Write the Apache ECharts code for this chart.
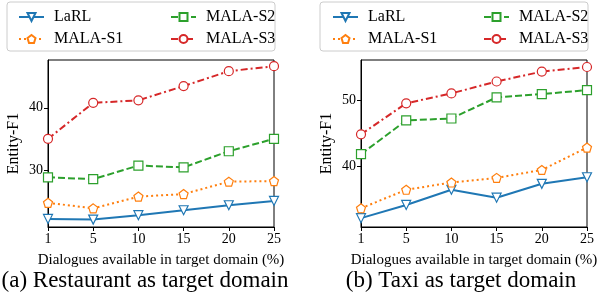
<!DOCTYPE html>
<html>
<head>
<meta charset="utf-8">
<script src="https://cdn.jsdelivr.net/npm/echarts@6/dist/echarts.min.js"></script>
<style>
  html, body { margin: 0; padding: 0; background: #fff; }
  #chart { width: 603px; height: 302px; }
</style>
</head>
<body>
<div id="chart"></div>
<script>
// x categories (% of target dialogues)
const pcts = ['1', '5', '10', '15', '20', '25']

// (a) Restaurant
const restLaRL = [22.1, 22.0, 22.7, 23.5, 24.3, 25.0]
const restS1 = [24.7, 23.8, 25.7, 26.1, 28.1, 28.2]
const restS2 = [28.8, 28.5, 30.7, 30.4, 33.0, 35.0]
const restS3 = [35.0, 40.8, 41.2, 43.5, 45.9, 46.7]
const restTicks = [30, 40]

// (b) Taxi
const taxiLaRL = [32.1, 34.1, 36.4, 35.2, 37.3, 38.3]
const taxiS1 = [33.6, 36.4, 37.5, 38.2, 39.4, 42.8]
const taxiS2 = [41.8, 46.9, 47.2, 50.4, 50.9, 51.5]
const taxiS3 = [44.8, 49.5, 51.0, 52.8, 54.3, 55.0]
const taxiTicks = [40, 50]

const FONT = '"Liberation Serif", "Times New Roman", serif'
const pentagon = 'path://M0,-1 L0.951,-0.309 L0.588,0.809 L-0.588,0.809 L-0.951,-0.309 Z'
const triDown = 'path://M-1,-0.9 L1,-0.9 L0,0.9 Z'

const styles = {
  'LaRL': { color: '#1f77b4', symbol: triDown, dash: 'solid' },
  'MALA-S1': { color: '#ff7f0e', symbol: pentagon, dash: [2, 3] },
  'MALA-S2': { color: '#2ca02c', symbol: 'rect', dash: [7, 3] },
  'MALA-S3': { color: '#d62728', symbol: 'circle', dash: [7, 3, 2, 3] }
}

function mkSeries (name, data, idx) {
  const s = styles[name]
  return {
    name: name,
    type: 'line',
    xAxisIndex: idx,
    yAxisIndex: idx,
    data: data,
    symbol: s.symbol,
    symbolSize: 9,
    showAllSymbol: true,
    lineStyle: { color: s.color, width: 2, type: s.dash },
    itemStyle: { color: '#fff', borderColor: s.color, borderWidth: 1.2 },
    emphasis: { disabled: true },
    animation: false
  }
}

function mkGrid (left) {
  return { left: left, top: 60, width: 226, height: 167, show: true, borderColor: '#000', borderWidth: 1 }
}

function mkX (idx) {
  return {
    type: 'category',
    gridIndex: idx,
    data: pcts,
    boundaryGap: false,
    name: 'Dialogues available in target domain (%)',
    nameLocation: 'middle',
    nameGap: 26,
    nameTextStyle: { fontFamily: FONT, fontSize: 15, color: '#000' },
    axisLine: { lineStyle: { color: '#000', width: 1 } },
    axisTick: { show: true, length: 4, alignWithLabel: true, lineStyle: { color: '#000' } },
    axisLabel: { fontFamily: FONT, fontSize: 14, color: '#000', margin: 5, interval: 0 },
    splitLine: { show: false }
  }
}

function mkY (idx, min, max, ticks) {
  return {
    type: 'value',
    gridIndex: idx,
    min: min,
    max: max,
    name: 'Entity-F1',
    nameLocation: 'middle',
    nameGap: 26,
    nameTextStyle: { fontFamily: FONT, fontSize: 16, color: '#000' },
    axisLine: { show: true, lineStyle: { color: '#000', width: 1 } },
    axisTick: { show: true, length: 4, customValues: ticks, lineStyle: { color: '#000' } },
    axisLabel: { fontFamily: FONT, fontSize: 14, color: '#000', margin: 5, customValues: ticks },
    splitLine: { show: false }
  }
}

function mkLegend (left, names) {
  return {
    orient: 'vertical',
    left: left,
    top: 4,
    itemWidth: 25,
    itemHeight: 10,
    itemGap: 6,
    selectedMode: false,
    data: names,
    textStyle: { fontFamily: FONT, fontSize: 16, color: '#000', padding: [0, 0, 0, 5], lineHeight: 16 }
  }
}

function legendBox (x) {
  return {
    type: 'rect',
    shape: { x: x, y: 2, width: 268, height: 49, r: 3 },
    style: { fill: '#fff', stroke: '#cccccc', lineWidth: 1 },
    z: -1
  }
}

function caption (x, text) {
  return {
    type: 'text',
    x: x,
    y: 281,
    style: { text: text, font: '23px ' + FONT, fill: '#000', align: 'center', verticalAlign: 'middle' }
  }
}

const chart = echarts.init(document.getElementById('chart'), null, { renderer: 'canvas' })
chart.setOption({
  backgroundColor: '#fff',
  animation: false,
  grid: [mkGrid(48), mkGrid(361)],
  xAxis: [mkX(0), mkX(1)],
  yAxis: [mkY(0, 20.8, 47.7, restTicks), mkY(1, 30.76, 56.06, taxiTicks)],
  legend: [
    mkLegend(13, ['LaRL', 'MALA-S1']),
    mkLegend(165, ['MALA-S2', 'MALA-S3']),
    mkLegend(327, ['LaRL', 'MALA-S1']),
    mkLegend(478, ['MALA-S2', 'MALA-S3'])
  ],
  graphic: [
    legendBox(7),
    legendBox(320),
    caption(145, '(a) Restaurant as target domain'),
    caption(461, '(b) Taxi as target domain')
  ],
  series: [
    mkSeries('LaRL', restLaRL, 0),
    mkSeries('MALA-S1', restS1, 0),
    mkSeries('MALA-S2', restS2, 0),
    mkSeries('MALA-S3', restS3, 0),
    mkSeries('LaRL', taxiLaRL, 1),
    mkSeries('MALA-S1', taxiS1, 1),
    mkSeries('MALA-S2', taxiS2, 1),
    mkSeries('MALA-S3', taxiS3, 1)
  ]
})
</script>
</body>
</html>
